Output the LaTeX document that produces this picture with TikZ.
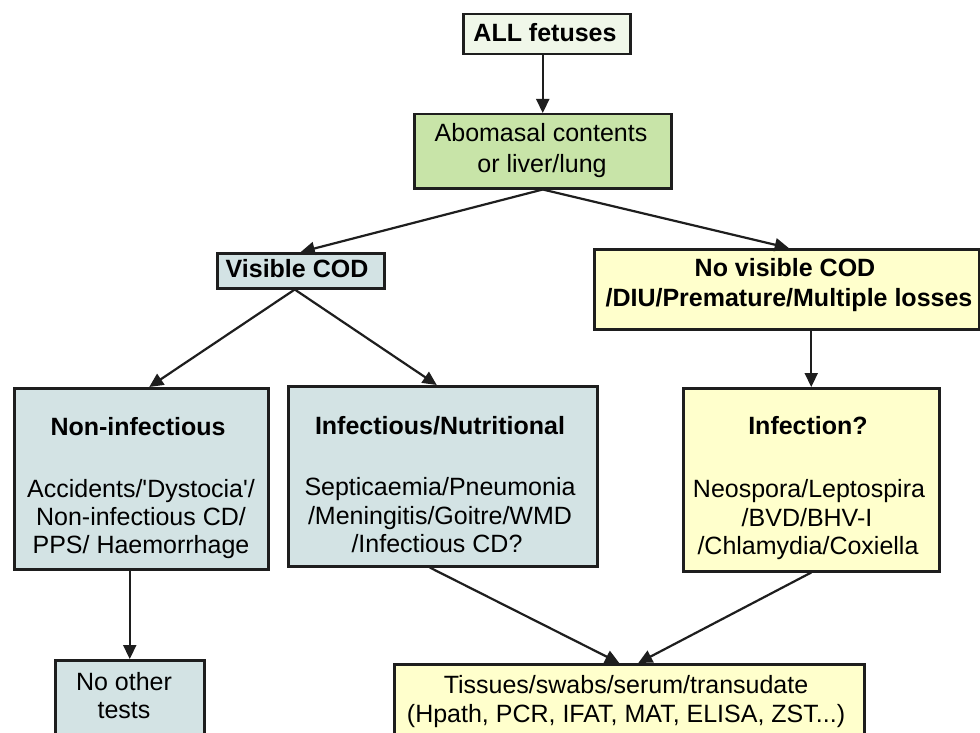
\documentclass[tikz,border=0pt]{standalone}
\usepackage{fontspec}
\setmainfont{Liberation Sans}
\usetikzlibrary{arrows.meta,calc}
\definecolor{boxgreen}{RGB}{200,228,168}
\definecolor{boxpale}{RGB}{240,247,233}
\definecolor{boxblue}{RGB}{211,227,228}
\definecolor{boxyellow}{RGB}{255,255,204}
\definecolor{edgec}{RGB}{30,30,30}
\begin{document}
\begin{tikzpicture}[x=1pt,y=-1pt,
  box/.style={draw=edgec,line width=2.5pt,inner sep=0pt,anchor=north west},
  head/.style={anchor=base,inner sep=0pt,font=\fontsize{25}{30}\selectfont\bfseries},
  txt/.style={anchor=base,inner sep=0pt,font=\fontsize{25}{30}\selectfont},
  arr/.style={draw=edgec,line width=2.2pt,-{Triangle[length=14pt,width=13pt]}}]
\useasboundingbox (0,0) rectangle (980,733);
\clip (0,0) rectangle (980,733);
\fill[white] (0,0) rectangle (980,733);
% boxes
\node[box,fill=boxpale,minimum width=167pt,minimum height=40pt] (all) at (462,13) {};
\node[box,fill=boxgreen,minimum width=257pt,minimum height=74pt] (abo) at (413,113) {};
\node[box,fill=boxblue,minimum width=167pt,minimum height=35pt] (vis) at (216,252) {};
\node[box,fill=boxyellow,minimum width=385pt,minimum height=80pt] (nov) at (593,248) {};
\node[box,fill=boxblue,minimum width=254pt,minimum height=181pt] (ninf) at (13,387) {};
\node[box,fill=boxblue,minimum width=309pt,minimum height=180pt] (inf) at (287,385) {};
\node[box,fill=boxyellow,minimum width=256pt,minimum height=183pt] (infq) at (682,387) {};
\node[box,fill=boxblue,minimum width=149pt,minimum height=95pt] (noth) at (54,659) {};
\node[box,fill=boxyellow,minimum width=470pt,minimum height=95pt] (tis) at (393,663) {};
% texts
\node[head] (t-all) at (545,42) {ALL fetuses};
\node[txt] (t-abo1) at (541,142) {Abomasal contents};
\node[txt] (t-abo2) at (542,172) {or liver/lung};
\node[head] (t-vis) at (297,277) {Visible COD};
\node[head] (t-nov1) at (785,276) {No visible COD};
\node[head] (t-nov2) at (789,306) {/DIU/Premature/Multiple losses};
\node[head] (t-ninf) at (138,435) {Non-infectious};
\node[txt] (t-ninf1) at (141,497) {Accidents/\textquotesingle Dystocia\textquotesingle/};
\node[txt] (t-ninf2) at (141,525) {Non-infectious CD/};
\node[txt] (t-ninf3) at (141,553) {PPS/ Haemorrhage};
\node[head] (t-inf) at (440,434) {Infectious/Nutritional};
\node[txt] (t-inf1) at (440,495) {Septicaemia/Pneumonia};
\node[txt] (t-inf2) at (440,524) {/Meningitis/Goitre/WMD};
\node[txt] (t-inf3) at (437,552) {/Infectious CD?};
\node[head] (t-infq) at (808,434) {Infection?};
\node[txt] (t-infq1) at (809,497) {Neospora/Leptospira};
\node[txt] (t-infq2) at (807,526) {/BVD/BHV-I};
\node[txt] (t-infq3) at (808,554) {/Chlamydia/Coxiella};
\node[txt] (t-noth1) at (124,690) {No other};
\node[txt] (t-noth2) at (124,718) {tests};
\node[txt] (t-tis1) at (626,693) {Tissues/swabs/serum/transudate};
\node[txt] (t-tis2) at (626,722) {(Hpath, PCR, IFAT, MAT, ELISA, ZST...)};
% connectors
\draw[arr] (abo.north |- all.south) -- (abo.north);
\draw[arr] (abo.south) -- (vis.north);
\draw[arr] (abo.south) -- ($(nov.north)+(2,0)$);
\draw[arr] ($(vis.south)+(-6,0)$) -- ($(ninf.north)+(8,0)$);
\draw[arr] ($(vis.south)+(-6,0)$) -- ($(inf.north)+(-6,0)$);
\draw[arr] (noth.north |- ninf.south) -- (noth.north);
\draw[arr] (infq.north |- nov.south) -- (infq.north);
\draw[arr] ($(inf.south)+(-13,0)$) -- ($(tis.north)+(-10,0)$);
\draw[arr] (infq.south) -- ($(tis.north)+(9,0)$);
\end{tikzpicture}
\end{document}
